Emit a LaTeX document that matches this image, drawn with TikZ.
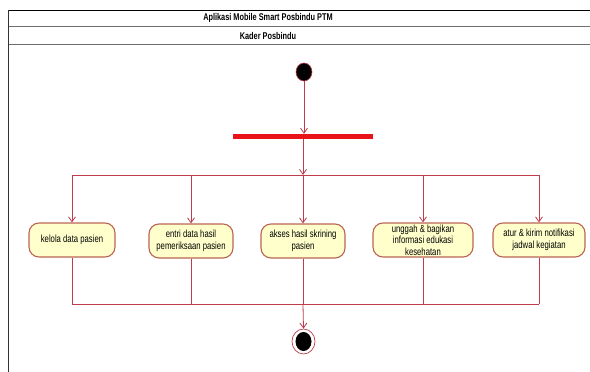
\documentclass[tikz,border=0pt]{standalone}
\usepackage{fontspec}
\setmainfont{Liberation Sans}[FakeStretch=0.75]
\usetikzlibrary{arrows.meta,shapes.geometric}
\definecolor{flow}{RGB}{190,60,76}
\definecolor{barred}{RGB}{232,20,26}
\definecolor{actfill}{RGB}{255,255,204}
\definecolor{actedge}{RGB}{186,100,84}
\definecolor{frameline}{RGB}{110,110,110}
\tikzset{
  flowline/.style={draw=flow, line width=0.8pt},
  flowarrow/.style={flowline, -{Straight Barb[length=5pt,width=7pt,line width=0.8pt]}},
  activity/.style={draw=actedge, fill=actfill, line width=1.1pt, rounded corners=10pt,
    minimum height=34pt, inner sep=2pt, align=center,
    font=\fontsize{10.3}{12.2}\selectfont},
  acttext/.style={align=center, inner sep=0pt, font=\fontsize{10.3}{11.6}\selectfont},
  lanetext/.style={font=\fontsize{9.8}{11}\selectfont\bfseries}
}
\begin{document}
\begin{tikzpicture}[x=1pt,y=-1pt]
  \useasboundingbox (0,0) rectangle (590,372);
  % swimlane frame
  \draw[black, line width=0.9pt] (8,10) -- (590,10);
  \draw[frameline, line width=0.9pt] (8,26) -- (590,26);
  \draw[frameline, line width=0.9pt] (8,44) -- (590,44);
  \draw[black!80, line width=1pt] (8,10) -- (8,372);
  \node[lanetext] (title) at (268,18) {Aplikasi Mobile Smart Posbindu PTM};
  \node[lanetext] (lane) at (268,35.5) {Kader Posbindu};

  % initial node and fork bar
  \node[draw=flow, fill=black, ellipse, minimum width=16pt, minimum height=18pt,
        inner sep=0pt, line width=0.6pt] (start) at (304,72) {};
  \node[fill=barred, minimum width=140pt, minimum height=5pt, inner sep=0pt] (fork) at (303,136.5) {};

  % activities
  \node[activity, minimum width=86pt] (a1) at (72,240) {kelola data pasien};
  \node[activity, minimum width=84pt] (a2) at (191,241) {entri data hasil\\pemeriksaan pasien};
  \node[activity, minimum width=84pt] (a3) at (303,241) {akses hasil skrining\\pasien};
  \node[draw=actedge, fill=actfill, line width=1.1pt, rounded corners=10pt,
        minimum width=100pt, minimum height=34pt, inner sep=0pt] (a4) at (423,240) {};
  \node[acttext] (a4t) at (a4.center) {unggah \& bagikan\\informasi edukasi\\kesehatan};
  \node[activity, minimum width=92pt] (a5) at (539,240) {atur \& kirim notifikasi\\jadwal kegiatan};

  % final node
  \node[draw=flow, fill=white, ellipse, minimum width=23pt, minimum height=25pt,
        inner sep=0pt, line width=0.7pt] (stop) at (303.5,341.5) {};
  \node[fill=black, ellipse, minimum width=16pt, minimum height=19pt, inner sep=0pt] (stopdot) at (stop.center) {};

  % branching and joining points
  \coordinate (split) at (303,175);
  \coordinate (s1) at (72,175);
  \coordinate (s2) at (191,175);
  \coordinate (s4) at (423,175);
  \coordinate (s5) at (539,175);
  \coordinate (merge) at (303,304);
  \coordinate (m1) at (72,304);
  \coordinate (m5) at (539,304);

  % control flow
  \draw[flowarrow] (start) -- (fork.north -| start);
  \draw[flowarrow] (fork.south) -- (split);
  \draw[flowline] (s1) -- (s5);
  \draw[flowarrow] (s1) -- (a1.north);
  \draw[flowarrow] (s2) -- (a2.north);
  \draw[flowarrow] (split) -- (a3.north);
  \draw[flowarrow] (s4) -- (a4.north);
  \draw[flowarrow] (s5) -- (a5.north);

  \draw[flowline] (a1.south) -- (m1);
  \draw[flowline] (a2.south) -- (a2.south |- merge);
  \draw[flowline] (a3.south) -- (merge);
  \draw[flowline] (a4.south) -- (a4.south |- merge);
  \draw[flowline] (a5.south) -- (m5);
  \draw[flowline] (m1) -- (m5);
  \draw[flowarrow] (merge) -- (stop.north);
\end{tikzpicture}
\end{document}
